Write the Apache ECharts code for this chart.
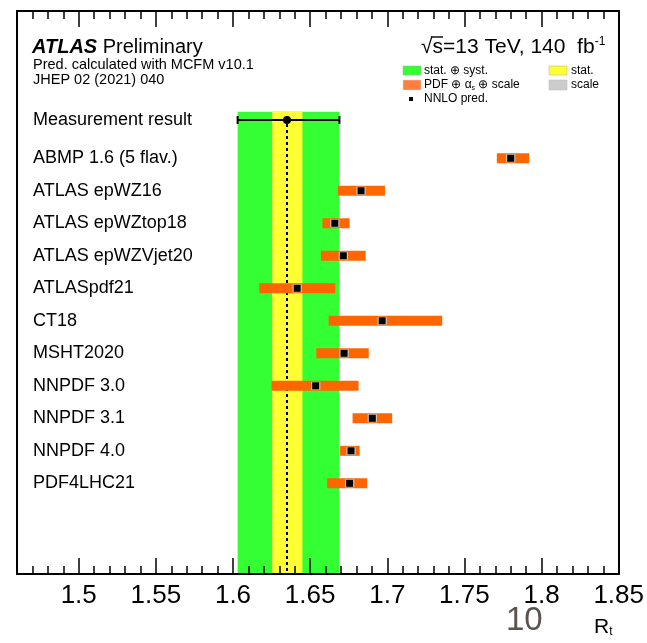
<!DOCTYPE html>
<html><head><meta charset="utf-8">
<script src="https://cdn.jsdelivr.net/npm/echarts@6/dist/echarts.min.js"></script>
<style>html,body{margin:0;padding:0;background:#fff}#c{width:647px;height:643px}</style>
</head><body><div id="c"></div>
<script>
// ---- data ----
const categories = ['ABMP 1.6 (5 flav.)','ATLAS epWZ16','ATLAS epWZtop18','ATLAS epWZVjet20','ATLASpdf21','CT18','MSHT2020','NNPDF 3.0','NNPDF 3.1','NNPDF 4.0','PDF4LHC21'];
const predCentral = [1.780, 1.683, 1.666, 1.6715, 1.6416, 1.6967, 1.672, 1.6536, 1.6903, 1.6765, 1.6756];
const predLow     = [1.771, 1.668, 1.658, 1.657, 1.617, 1.662, 1.654, 1.625, 1.6775, 1.6694, 1.661];
const predHigh    = [1.792, 1.6985, 1.6756, 1.686, 1.6663, 1.7356, 1.688, 1.6814, 1.7032, 1.6821, 1.687];
const predScale   = [0.003, 0.003, 0.003, 0.003, 0.003, 0.003, 0.003, 0.003, 0.003, 0.003, 0.003];
const measLabel = 'Measurement result';
const measCentral = 1.635;
const measStat = [1.6254, 1.645];
const measTotal = [1.603, 1.669];
const xTickLabels = [1.5, 1.55, 1.6, 1.65, 1.7, 1.75, 1.8, 1.85];
const xMin = 1.46, xMax = 1.85;

// ---- layout (rows in y units) ----
const yMin = 0, yMax = 17.32;
const firstRowY = 4.53;
const measY = 3.354;
const bandTopY = 3.098;

const FONT = '"Liberation Sans", Arial, Helvetica, sans-serif';
const chart = echarts.init(document.getElementById('c'));

const predData = categories.map((n, i) => [predCentral[i], firstRowY + i, predLow[i], predHigh[i], predScale[i]]);
const labelData = [[xMin, measY]].concat(categories.map((n, i) => [xMin, firstRowY + i]));
const labelNames = [measLabel].concat(categories);

function xAxisDef(pos, showLabels, major) {
  return {
    type: 'value', min: xMin, max: xMax, interval: 0.01, position: pos, z: 10,
    axisLine: {show: !major, onZero: false, lineStyle: {color: '#000', width: 2}},
    axisTick: major
      ? {show: true, inside: true, length: 16, customValues: xTickLabels.slice(), lineStyle: {color: '#000', width: 1.5}}
      : {show: true, inside: true, length: 8, lineStyle: {color: '#000', width: 1.5}},
    splitLine: {show: false},
    axisLabel: showLabels ? {show: true, color: '#000', fontSize: 26, fontFamily: FONT, margin: 9,
      formatter: v => (Math.abs(v * 20 - Math.round(v * 20)) < 1e-6 && v > 1.47) ? String(+v.toFixed(2)) : ''} : {show: false}
  };
}
function yAxisDef(pos) {
  return {type: 'value', min: yMin, max: yMax, inverse: true, position: pos, z: 10,
    axisLine: {show: true, onZero: false, lineStyle: {color: '#000', width: 2}},
    axisTick: {show: false}, axisLabel: {show: false}, splitLine: {show: false}};
}

// measure text to place the radical's overline
const mctx = document.createElement('canvas').getContext('2d');
mctx.font = '21px ' + FONT;
const sqrtW = mctx.measureText('√').width;
const sW = mctx.measureText('s').width;
const energyX = 421;

chart.setOption({
  animation: false,
  grid: {left: 17, right: 27, top: 11, bottom: 69},
  xAxis: [xAxisDef('bottom', true, false), xAxisDef('top', false, false), xAxisDef('bottom', false, true), xAxisDef('top', false, true)],
  yAxis: [yAxisDef('left'), yAxisDef('right')],
  series: [
    { // measurement bands
      type: 'custom', z: 1,
      data: [[measCentral, bandTopY, measTotal[0], measTotal[1], measStat[0], measStat[1]]],
      renderItem: (p, api) => {
        const g0 = api.coord([api.value(2), api.value(1)]);
        const g1 = api.coord([api.value(3), yMax]);
        const s0 = api.coord([api.value(4), api.value(1)]);
        const s1 = api.coord([api.value(5), yMax]);
        return {type: 'group', children: [
          {type: 'rect', shape: {x: g0[0], y: g0[1], width: g1[0] - g0[0], height: g1[1] - g0[1]}, style: {fill: '#33ff33'}},
          {type: 'rect', shape: {x: s0[0], y: s0[1], width: s1[0] - s0[0], height: s1[1] - s0[1]}, style: {fill: '#ffff33'}}
        ]};
      }
    },
    { // dashed central line
      type: 'custom', z: 2,
      data: [[measCentral, measY]],
      renderItem: (p, api) => {
        const a = api.coord([api.value(0), api.value(1)]);
        const b = api.coord([api.value(0), yMax]);
        return {type: 'line', shape: {x1: a[0], y1: a[1] + 4, x2: b[0], y2: b[1]},
          style: {stroke: '#000', lineWidth: 2, lineDash: [3, 3]}};
      }
    },
    { // measurement error bar
      type: 'custom', z: 3,
      data: [[measCentral, measY, measTotal[0], measTotal[1]]],
      renderItem: (p, api) => {
        const c = api.coord([api.value(0), api.value(1)]);
        const l = api.coord([api.value(2), api.value(1)]);
        const r = api.coord([api.value(3), api.value(1)]);
        const st = {stroke: '#000', lineWidth: 2};
        return {type: 'group', children: [
          {type: 'line', shape: {x1: l[0], y1: l[1], x2: r[0], y2: r[1]}, style: st},
          {type: 'line', shape: {x1: l[0], y1: l[1] - 4, x2: l[0], y2: l[1] + 4}, style: st},
          {type: 'line', shape: {x1: r[0], y1: r[1] - 4, x2: r[0], y2: r[1] + 4}, style: st},
          {type: 'circle', shape: {cx: c[0], cy: c[1], r: 4}, style: {fill: '#000'}}
        ]};
      }
    },
    { // predictions
      type: 'custom', z: 4,
      data: predData,
      renderItem: (p, api) => {
        const y = api.value(1), cx = api.value(0);
        const lo = api.coord([api.value(2), y]);
        const hi = api.coord([api.value(3), y]);
        const c = api.coord([cx, y]);
        const s0 = api.coord([cx - api.value(4), y]);
        const s1 = api.coord([cx + api.value(4), y]);
        const h = 10, sq = 7;
        return {type: 'group', children: [
          {type: 'rect', shape: {x: lo[0], y: lo[1] - h / 2, width: hi[0] - lo[0], height: h}, style: {fill: '#ff6600'}},
          {type: 'rect', shape: {x: s0[0], y: c[1] - 4, width: s1[0] - s0[0], height: 8}, style: {fill: '#cccccc'}},
          {type: 'rect', shape: {x: c[0] - sq / 2, y: c[1] - sq / 2, width: sq, height: sq}, style: {fill: '#000'}}
        ]};
      }
    },
    { // row labels
      type: 'custom', z: 6,
      data: labelData,
      renderItem: (p, api) => {
        const pt = api.coord([api.value(0), api.value(1)]);
        return {type: 'text', x: pt[0] + 16, y: pt[1],
          style: {text: labelNames[p.dataIndex], fill: '#000', font: '18px ' + FONT, verticalAlign: 'middle', align: 'left'}};
      }
    }
  ],
  graphic: [
    {type: 'text', x: 32, y: 47, style: {text: '{b|ATLAS} Preliminary', fill: '#000', font: '20px ' + FONT, verticalAlign: 'middle',
      rich: {b: {fontWeight: 'bold', fontStyle: 'italic', fontSize: 20, fontFamily: FONT}}}},
    {type: 'text', x: 33, y: 65, style: {text: 'Pred. calculated with MCFM v10.1', fill: '#000', font: '14.5px ' + FONT, verticalAlign: 'middle'}},
    {type: 'text', x: 33, y: 79.5, style: {text: 'JHEP 02 (2021) 040', fill: '#000', font: '14.5px ' + FONT, verticalAlign: 'middle'}},
    {type: 'text', x: energyX, y: 47, style: {text: '√s=13 TeV, 140  fb{sup|-1}', fill: '#000', font: '21px ' + FONT, verticalAlign: 'middle', align: 'left',
      rich: {sup: {fontSize: 12, fontFamily: FONT, verticalAlign: 'top', padding: [0, 0, 10, 0]}}}},
    {type: 'line', shape: {x1: energyX + sqrtW - 1.5, y1: 37, x2: energyX + sqrtW + sW, y2: 37}, style: {stroke: '#000', lineWidth: 1.4}},
    // legend
    {type: 'rect', shape: {x: 403, y: 66, width: 18, height: 9}, style: {fill: '#33ff33', stroke: '#aaa', lineWidth: 0.5}},
    {type: 'text', x: 424, y: 70.5, style: {text: 'stat. ⊕ syst.', fill: '#000', font: '12px ' + FONT, verticalAlign: 'middle'}},
    {type: 'rect', shape: {x: 549, y: 66, width: 18, height: 9}, style: {fill: '#ffff33', stroke: '#aaa', lineWidth: 0.5}},
    {type: 'text', x: 571, y: 70.5, style: {text: 'stat.', fill: '#000', font: '12px ' + FONT, verticalAlign: 'middle'}},
    {type: 'rect', shape: {x: 403, y: 80, width: 18, height: 10}, style: {fill: '#ff7f40', stroke: '#ddd', lineWidth: 0.5}},
    {type: 'text', x: 424, y: 85, style: {text: 'PDF ⊕ α{sub|s} ⊕ scale', fill: '#000', font: '12px ' + FONT, verticalAlign: 'middle',
      rich: {sub: {fontSize: 7, fontFamily: FONT, verticalAlign: 'bottom', padding: [6, 0, 0, 0]}}}},
    {type: 'rect', shape: {x: 549, y: 80, width: 18, height: 10}, style: {fill: '#cccccc', stroke: '#bbb', lineWidth: 0.5}},
    {type: 'text', x: 571, y: 85, style: {text: 'scale', fill: '#000', font: '12px ' + FONT, verticalAlign: 'middle'}},
    {type: 'rect', shape: {x: 409, y: 97, width: 4, height: 4}, style: {fill: '#000'}},
    {type: 'text', x: 424, y: 98.5, style: {text: 'NNLO pred.', fill: '#000', font: '12px ' + FONT, verticalAlign: 'middle'}},
    // bottom texts
    {type: 'text', x: 506, y: 621, style: {text: '10', fill: '#5b544c', font: '33px ' + FONT, verticalAlign: 'middle'}},
    {type: 'text', x: 594, y: 627, style: {text: 'R{sub|t}', fill: '#000', font: '21px ' + FONT, verticalAlign: 'middle',
      rich: {sub: {fontSize: 12, fontFamily: FONT, verticalAlign: 'bottom', padding: [10, 0, 0, 0]}}}}
  ]
});
</script></body></html>
